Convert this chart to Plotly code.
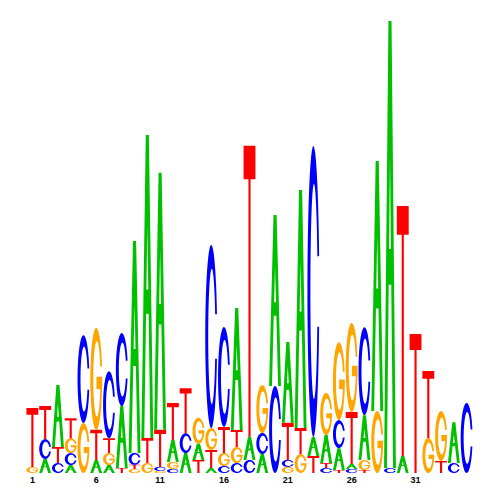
import numpy as np
import plotly.graph_objects as go

# sequence logo: letters stacked bottom -> top, heights in bits
positions = list(range(1, 36))
stack_letters = [
    "GT", "ACT", "CTA", "ACGT", "GC", "ATG", "AGTC", "TAC", "GTCA", "GTA",
    "GCTA", "CGAT", "ACT", "TAG", "ATGC", "CGTC", "CGTA", "CAT", "ACG", "CA",
    "GCTA", "GTA", "TAC", "CTAG", "TACG", "CATG", "TGAC", "GA", "CA", "AT",
    "T", "GT", "TG", "CA", "C",
]
stack_heights = [
    [0.027, 0.261], [0.062, 0.088, 0.146], [0.044, 0.071, 0.274],
    [0.035, 0.053, 0.066, 0.088], [0.221, 0.389], [0.058, 0.133, 0.451],
    [0.035, 0.053, 0.066, 0.296], [0.022, 0.274, 0.323],
    [0.018, 0.018, 0.053, 0.938], [0.044, 0.111, 1.341],
    [0.009, 0.018, 0.164, 1.137], [0.018, 0.031, 0.097, 0.164],
    [0.088, 0.088, 0.199], [0.058, 0.071, 0.115],
    [0.022, 0.080, 0.097, 0.810], [0.031, 0.058, 0.115, 0.442],
    [0.044, 0.071, 0.075, 0.540], [0.058, 0.102, 1.288],
    [0.084, 0.093, 0.212], [0.385, 0.757],
    [0.027, 0.031, 0.164, 0.358], [0.084, 0.115, 1.053],
    [0.075, 0.084, 1.288], [0.022, 0.022, 0.124, 0.186],
    [0.013, 0.097, 0.124, 0.345], [0.018, 0.022, 0.230, 0.394],
    [0.013, 0.044, 0.199, 0.389], [0.274, 1.106], [0.022, 1.978],
    [0.075, 1.106], [0.615], [0.155, 0.296], [0.053, 0.221],
    [0.044, 0.181], [0.310],
]
tick_positions = [1, 6, 11, 16, 21, 26, 31]

colors = {"A": "#00C000", "C": "#0000FF", "G": "#FFA500", "T": "#FF0000"}


def arc(cx, cy, rx, ry, a0, a1, n=48):
    t = np.radians(np.linspace(a0, a1, n))
    return list(zip(cx + rx * np.cos(t), cy + ry * np.sin(t)))


# glyph outlines in a unit box
def glyph(letter):
    if letter == "T":
        return [[(0, 1), (1, 1), (1, 0.885), (0.59, 0.885), (0.59, 0),
                 (0.41, 0), (0.41, 0.885), (0, 0.885)]]
    if letter == "A":
        outer = [(0, 0), (0.37, 1), (0.63, 1), (1, 0), (0.76, 0),
                 (0.608, 0.41), (0.392, 0.41), (0.24, 0)]
        hole = [(0.421, 0.49), (0.579, 0.49), (0.5, 0.70)]
        return [outer, hole]
    ocx, ocy, orx, ory = 0.5, 0.5, 0.5, 0.5
    icx, icy, irx, iry = 0.55, 0.5, 0.30, 0.37
    cut = 0.121
    oa = np.degrees(np.arcsin(cut / ory))
    ia = np.degrees(np.arcsin(cut / iry))
    if letter == "C":
        pts = arc(ocx, ocy, orx, ory, oa, 360 - oa)
        pts += arc(icx, icy, irx, iry, 360 - ia, ia)
        return [pts]
    # G
    pts = arc(ocx, ocy, orx, ory, oa, 352)
    pts += [(1.0, 0.43), (1.0, 0.52), (0.52, 0.52), (0.52, 0.40)]
    ga = np.degrees(np.arcsin(0.10 / iry))
    pts += arc(icx, icy, irx, iry, 360 - ga, ia)
    return [pts]


shapes = []
for pos, letters, heights in zip(positions, stack_letters, stack_heights):
    y0 = 0.0
    for letter, h in zip(letters, heights):
        d = ""
        for sub in glyph(letter):
            d += "M " + " L ".join(
                f"{pos - 0.465 + gx * 0.93:.4f},{y0 + gy * h:.5f}" for gx, gy in sub
            ) + " Z "
        shapes.append(dict(
            type="path", path=d, xref="x", yref="y",
            fillcolor=colors[letter], line=dict(width=0), fillrule="evenodd",
            layer="above",
        ))
        y0 += h

fig = go.Figure()
fig.add_trace(go.Scatter(x=[], y=[], showlegend=False))

# page body adds an 8px offset, so the figure is 492 wide/high
fig.update_layout(
    width=492, height=492,
    margin=dict(l=18, r=27, t=13, b=27),
    plot_bgcolor="white", paper_bgcolor="white",
    shapes=shapes,
    showlegend=False,
    xaxis=dict(
        range=[0.5, 35.5], showgrid=False, zeroline=False, showline=False,
        tickmode="array", tickvals=tick_positions,
        ticktext=[f"<b>{t}</b>" for t in tick_positions],
        tickfont=dict(family="Liberation Sans", size=9, color="black"),
        ticks="", ticklabelstandoff=0, fixedrange=True,
    ),
    yaxis=dict(range=[0, 2], visible=False, fixedrange=True),
)

fig.write_html("out.html")
